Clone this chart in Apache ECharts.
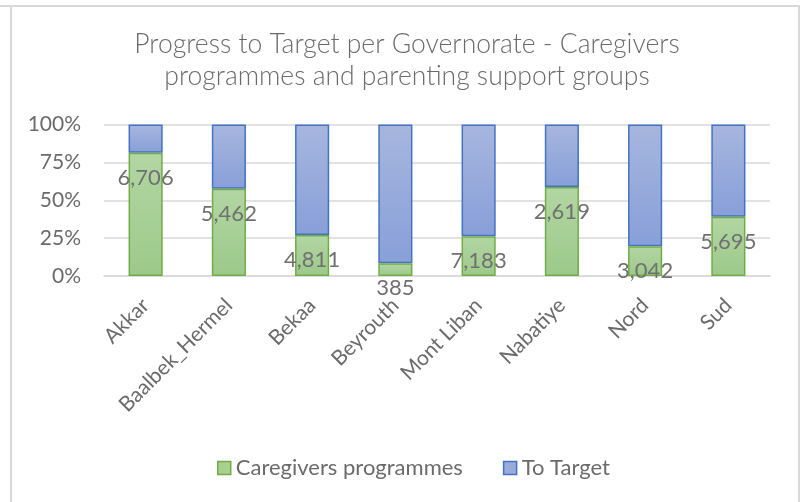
<!DOCTYPE html>
<html>
<head>
<meta charset="utf-8">
<script src="https://cdn.jsdelivr.net/npm/echarts@6/dist/echarts.min.js"></script>
<style>
  html, body { margin: 0; padding: 0; background: #fff; }
  #chart { width: 802px; height: 502px; }
</style>
</head>
<body>
<div id="chart"></div>
<script>
// governorates on the x axis
var governorates = ["Akkar", "Baalbek_Hermel", "Bekaa", "Beyrouth", "Mont Liban", "Nabatiye", "Nord", "Sud"];
// share of target reached (%)
var caregiversShare = [81.4, 57.6, 27.0, 8.4, 26.2, 58.7, 19.6, 39.1];
// remaining share to target (%)
var toTargetShare = [18.6, 42.4, 73.0, 91.6, 73.8, 41.3, 80.4, 60.9];
// count shown as label on the green part
var caregiversCount = [6706, 5462, 4811, 385, 7183, 2619, 3042, 5695];
var yTicks = ["0%", "25%", "50%", "75%", "100%"];

var fontName = "Lato";
var textGray = "#6b6b6b";

var chart = echarts.init(document.getElementById("chart"));

var greenFill = new echarts.graphic.LinearGradient(0, 0, 0, 1, [
  { offset: 0, color: "#b3d6a3" },
  { offset: 1, color: "#9cc98a" }
]);
var blueFill = new echarts.graphic.LinearGradient(0, 0, 0, 1, [
  { offset: 0, color: "#a6b6de" },
  { offset: 1, color: "#889fd8" }
]);

var option = {
  animation: false,
  backgroundColor: "#fff",
  textStyle: { fontFamily: fontName },
  title: {
    text: "Progress to Target per Governorate - Caregivers\nprogrammes and parenting support groups",
    left: 402,
    textAlign: "center",
    top: 23,
    textStyle: {
      fontFamily: fontName,
      fontWeight: 300,
      fontSize: 26.5,
      lineHeight: 32,
      color: textGray
    }
  },
  legend: {
    bottom: 18,
    left: 212,
    itemWidth: 13,
    itemHeight: 13,
    itemGap: 40,
    icon: "rect",
    textStyle: { fontFamily: fontName, fontSize: 22, color: textGray },
    data: [
      { name: "Caregivers programmes", itemStyle: { color: "#a9d18e", borderColor: "#70ad47", borderWidth: 1.5 } },
      { name: "To Target", itemStyle: { color: "#98acdc", borderColor: "#4472c4", borderWidth: 1.5 } }
    ]
  },
  grid: { left: 104, right: 32, top: 124.5, bottom: 226, containLabel: false },
  xAxis: {
    type: "category",
    data: governorates,
    axisLine: { show: true, lineStyle: { color: "#d9d9d9", width: 1.5 } },
    axisTick: { show: false },
    axisLabel: {
      rotate: 45,
      interval: 0,
      margin: 26,
      fontFamily: fontName,
      fontSize: 21,
      color: textGray
    }
  },
  yAxis: {
    type: "value",
    min: 0,
    max: 100,
    interval: 25,
    axisLine: { show: false },
    axisTick: { show: false },
    splitLine: { lineStyle: { color: "#d9d9d9", width: 1.5 } },
    axisLabel: {
      margin: 23,
      fontFamily: fontName,
      fontSize: 21,
      color: textGray,
      formatter: function (v) { return yTicks[v / 25]; }
    }
  },
  series: [
    {
      name: "Caregivers programmes",
      type: "bar",
      stack: "total",
      barWidth: "41%",
      data: caregiversShare,
      itemStyle: { color: greenFill, borderColor: "#70ad47", borderWidth: 1.5 },
      label: {
        show: true,
        position: "insideTop",
        distance: 14,
        fontFamily: fontName,
        fontSize: 22,
        color: "#707070",
        formatter: function (p) { return caregiversCount[p.dataIndex].toLocaleString("en-US"); }
      },
      z: 3
    },
    {
      name: "To Target",
      type: "bar",
      stack: "total",
      barWidth: "41%",
      data: toTargetShare,
      itemStyle: { color: blueFill, borderColor: "#4472c4", borderWidth: 1.5 },
      z: 2
    }
  ],
  graphic: [
    {
      type: "polyline",
      shape: { points: [[0, 6], [799, 6], [799, 510]] },
      style: { stroke: "#d9d9d9", lineWidth: 2, fill: null },
      silent: true
    },
    {
      type: "line",
      shape: { x1: 11, y1: 6, x2: 11, y2: 510 },
      style: { stroke: "#d9d9d9", lineWidth: 2 },
      silent: true
    }
  ]
};

chart.setOption(option);
</script>
</body>
</html>
